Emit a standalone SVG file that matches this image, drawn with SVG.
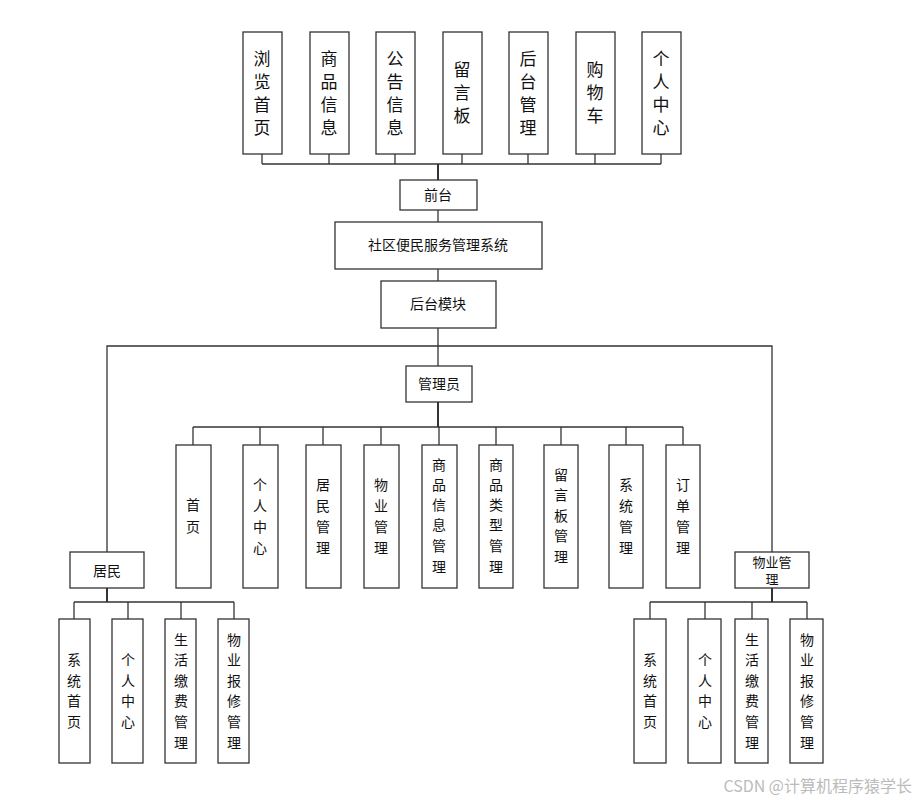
<svg xmlns="http://www.w3.org/2000/svg" width="917" height="801" viewBox="0 0 917 801">
<style>
rect{fill:#fff;stroke:#333;stroke-width:1.3}
text{font-family:"Noto Sans CJK SC",sans-serif;fill:#111;text-anchor:middle}
.t{font-size:17px}
.m{font-size:14px}
.c line,.c polyline{stroke:#333;stroke-width:1.3;fill:none}
</style>
<rect x="0" y="0" width="917" height="801" style="fill:#fff;stroke:none"/>
<g class="c">
<line x1="262" y1="164" x2="661" y2="164"/>
<line x1="262" y1="154" x2="262" y2="164"/><line x1="329" y1="154" x2="329" y2="164"/><line x1="395" y1="154" x2="395" y2="164"/><line x1="462" y1="154" x2="462" y2="164"/><line x1="528" y1="154" x2="528" y2="164"/><line x1="595" y1="154" x2="595" y2="164"/><line x1="661" y1="154" x2="661" y2="164"/>
<line x1="438" y1="164" x2="438" y2="180" style="stroke-width:2"/>
<line x1="438" y1="210" x2="438" y2="222"/><line x1="438" y1="269" x2="438" y2="281"/><line x1="438" y1="328" x2="438" y2="366"/>
<polyline points="107,552 107,346 772,346 772,552"/>
<line x1="438" y1="402" x2="438" y2="427" style="stroke-width:2"/>
<line x1="193" y1="427" x2="683" y2="427"/>
<line x1="193" y1="427" x2="193" y2="445"/><line x1="260" y1="427" x2="260" y2="445"/><line x1="323" y1="427" x2="323" y2="445"/><line x1="381" y1="427" x2="381" y2="445"/><line x1="439" y1="427" x2="439" y2="445"/><line x1="496" y1="427" x2="496" y2="445"/><line x1="561" y1="427" x2="561" y2="445"/><line x1="626" y1="427" x2="626" y2="445"/><line x1="683" y1="427" x2="683" y2="445"/>
<line x1="107" y1="588" x2="107" y2="602" style="stroke-width:2"/>
<line x1="74" y1="602" x2="234" y2="602"/>
<line x1="74" y1="602" x2="74" y2="619"/><line x1="128" y1="602" x2="128" y2="619"/><line x1="181" y1="602" x2="181" y2="619"/><line x1="234" y1="602" x2="234" y2="619"/>
<line x1="772" y1="588" x2="772" y2="602" style="stroke-width:2"/>
<line x1="650" y1="602" x2="807" y2="602"/>
<line x1="650" y1="602" x2="650" y2="619"/><line x1="705" y1="602" x2="705" y2="619"/><line x1="752" y1="602" x2="752" y2="619"/><line x1="807" y1="602" x2="807" y2="619"/>
</g>
<g id="n1"><rect x="243" y="32" width="39" height="122"/><text class="t" x="262"><tspan x="262" y="65">浏</tspan><tspan x="262" y="88">览</tspan><tspan x="262" y="111">首</tspan><tspan x="262" y="134">页</tspan></text></g>
<g id="n2"><rect x="310" y="32" width="39" height="122"/><text class="t"><tspan x="329" y="65">商</tspan><tspan x="329" y="88">品</tspan><tspan x="329" y="111">信</tspan><tspan x="329" y="134">息</tspan></text></g>
<g id="n3"><rect x="376" y="32" width="39" height="122"/><text class="t"><tspan x="395" y="65">公</tspan><tspan x="395" y="88">告</tspan><tspan x="395" y="111">信</tspan><tspan x="395" y="134">息</tspan></text></g>
<g id="n4"><rect x="443" y="32" width="39" height="122"/><text class="t"><tspan x="462" y="76">留</tspan><tspan x="462" y="99">言</tspan><tspan x="462" y="122">板</tspan></text></g>
<g id="n5"><rect x="509" y="32" width="39" height="122"/><text class="t"><tspan x="528" y="65">后</tspan><tspan x="528" y="88">台</tspan><tspan x="528" y="111">管</tspan><tspan x="528" y="134">理</tspan></text></g>
<g id="n6"><rect x="576" y="32" width="39" height="122"/><text class="t"><tspan x="595" y="76">购</tspan><tspan x="595" y="99">物</tspan><tspan x="595" y="122">车</tspan></text></g>
<g id="n7"><rect x="642" y="32" width="39" height="122"/><text class="t"><tspan x="661" y="65">个</tspan><tspan x="661" y="88">人</tspan><tspan x="661" y="111">中</tspan><tspan x="661" y="134">心</tspan></text></g>
<g id="qt"><rect x="400" y="180" width="77" height="30"/><text class="m" x="438" y="200">前台</text></g>
<g id="sys"><rect x="335" y="222" width="207" height="47"/><text class="m" x="438" y="250">社区便民服务管理系统</text></g>
<g id="ht"><rect x="381" y="281" width="115" height="47"/><text class="m" x="438" y="309">后台模块</text></g>
<g id="admin"><rect x="406" y="366" width="66" height="36"/><text class="m" x="439" y="389">管理员</text></g>
<g id="a1"><rect x="176" y="445" width="35" height="143"/><text class="m"><tspan x="193" y="510">首</tspan><tspan x="193" y="532">页</tspan></text></g>
<g id="a2"><rect x="243" y="445" width="35" height="143"/><text class="m"><tspan x="260" y="490">个</tspan><tspan x="260" y="511">人</tspan><tspan x="260" y="532">中</tspan><tspan x="260" y="553">心</tspan></text></g>
<g id="a3"><rect x="306" y="445" width="35" height="143"/><text class="m"><tspan x="323" y="490">居</tspan><tspan x="323" y="511">民</tspan><tspan x="323" y="532">管</tspan><tspan x="323" y="553">理</tspan></text></g>
<g id="a4"><rect x="364" y="445" width="35" height="143"/><text class="m"><tspan x="381" y="490">物</tspan><tspan x="381" y="511">业</tspan><tspan x="381" y="532">管</tspan><tspan x="381" y="553">理</tspan></text></g>
<g id="a5"><rect x="422" y="445" width="35" height="143"/><text class="m"><tspan x="439" y="470">商</tspan><tspan x="439" y="490">品</tspan><tspan x="439" y="510">信</tspan><tspan x="439" y="530">息</tspan><tspan x="439" y="551">管</tspan><tspan x="439" y="572">理</tspan></text></g>
<g id="a6"><rect x="479" y="445" width="34" height="143"/><text class="m"><tspan x="496" y="470">商</tspan><tspan x="496" y="490">品</tspan><tspan x="496" y="510">类</tspan><tspan x="496" y="530">型</tspan><tspan x="496" y="551">管</tspan><tspan x="496" y="572">理</tspan></text></g>
<g id="a7"><rect x="544" y="445" width="34" height="143"/><text class="m"><tspan x="561" y="480">留</tspan><tspan x="561" y="500">言</tspan><tspan x="561" y="521">板</tspan><tspan x="561" y="541">管</tspan><tspan x="561" y="562">理</tspan></text></g>
<g id="a8"><rect x="609" y="445" width="34" height="143"/><text class="m"><tspan x="626" y="490">系</tspan><tspan x="626" y="511">统</tspan><tspan x="626" y="532">管</tspan><tspan x="626" y="553">理</tspan></text></g>
<g id="a9"><rect x="666" y="445" width="34" height="143"/><text class="m"><tspan x="683" y="490">订</tspan><tspan x="683" y="511">单</tspan><tspan x="683" y="532">管</tspan><tspan x="683" y="553">理</tspan></text></g>
<g id="jm"><rect x="70" y="552" width="74" height="36"/><text class="m" x="107" y="576">居民</text></g>
<g id="j1"><rect x="59" y="619" width="31" height="144"/><text class="m"><tspan x="74" y="665">系</tspan><tspan x="74" y="686">统</tspan><tspan x="74" y="706">首</tspan><tspan x="74" y="727">页</tspan></text></g>
<g id="j2"><rect x="112" y="619" width="31" height="144"/><text class="m"><tspan x="128" y="665">个</tspan><tspan x="128" y="686">人</tspan><tspan x="128" y="706">中</tspan><tspan x="128" y="727">心</tspan></text></g>
<g id="j3"><rect x="165" y="619" width="31" height="144"/><text class="m"><tspan x="181" y="645">生</tspan><tspan x="181" y="665">活</tspan><tspan x="181" y="686">缴</tspan><tspan x="181" y="706">费</tspan><tspan x="181" y="727">管</tspan><tspan x="181" y="748">理</tspan></text></g>
<g id="j4"><rect x="218" y="619" width="31" height="144"/><text class="m"><tspan x="234" y="645">物</tspan><tspan x="234" y="665">业</tspan><tspan x="234" y="686">报</tspan><tspan x="234" y="706">修</tspan><tspan x="234" y="727">管</tspan><tspan x="234" y="748">理</tspan></text></g>
<g id="wy"><rect x="735" y="552" width="74" height="36"/><text x="772" y="567" style="font-size:13px">物业管</text><text x="772" y="584" style="font-size:13px">理</text></g>
<g id="w1"><rect x="634" y="619" width="32" height="144"/><text class="m"><tspan x="650" y="665">系</tspan><tspan x="650" y="686">统</tspan><tspan x="650" y="706">首</tspan><tspan x="650" y="727">页</tspan></text></g>
<g id="w2"><rect x="688" y="619" width="33" height="144"/><text class="m"><tspan x="705" y="665">个</tspan><tspan x="705" y="686">人</tspan><tspan x="705" y="706">中</tspan><tspan x="705" y="727">心</tspan></text></g>
<g id="w3"><rect x="735" y="619" width="33" height="144"/><text class="m"><tspan x="752" y="645">生</tspan><tspan x="752" y="665">活</tspan><tspan x="752" y="686">缴</tspan><tspan x="752" y="706">费</tspan><tspan x="752" y="727">管</tspan><tspan x="752" y="748">理</tspan></text></g>
<g id="w4"><rect x="790" y="619" width="33" height="144"/><text class="m"><tspan x="807" y="645">物</tspan><tspan x="807" y="665">业</tspan><tspan x="807" y="686">报</tspan><tspan x="807" y="706">修</tspan><tspan x="807" y="727">管</tspan><tspan x="807" y="748">理</tspan></text></g>
<text x="912" y="792" style="font-size:16px;fill:#bbb;text-anchor:end">CSDN @计算机程序猿学长</text>
</svg>
